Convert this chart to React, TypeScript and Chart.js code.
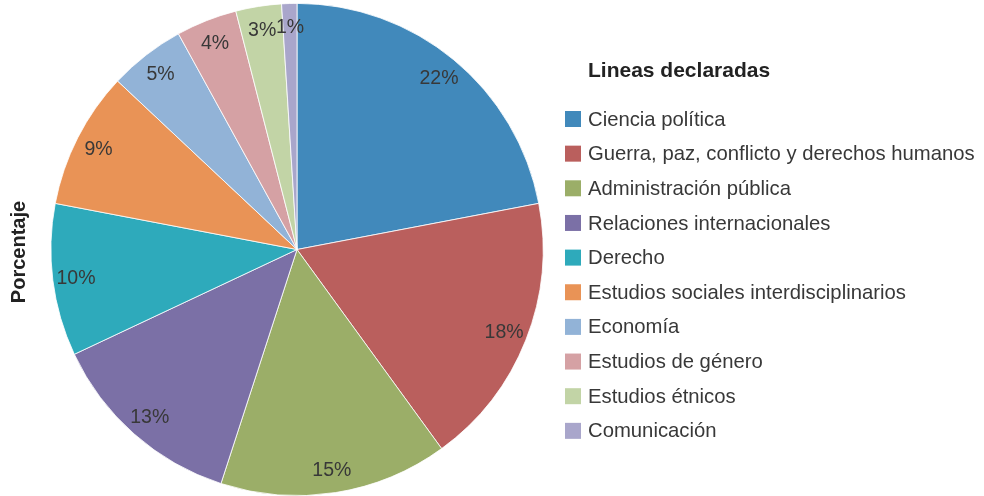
import React, { useEffect, useRef } from "react";
import { Chart, registerables } from "chart.js";

Chart.register(...registerables);

const categories = [
  "Ciencia política",
  "Guerra, paz, conflicto y derechos humanos",
  "Administración pública",
  "Relaciones internacionales",
  "Derecho",
  "Estudios sociales interdisciplinarios",
  "Economía",
  "Estudios de género",
  "Estudios étnicos",
  "Comunicación",
];
const values = [22, 18, 15, 13, 10, 9, 5, 4, 3, 1];
const colors = [
  "#4189BB",
  "#BA5F5D",
  "#9BAE68",
  "#7B70A6",
  "#2EAABB",
  "#E99356",
  "#92B3D7",
  "#D5A1A4",
  "#C2D4A6",
  "#A9A6CB",
];
const legendTitle = "Lineas declaradas";
const axisTitle = "Porcentaje";

const FONT = "'Liberation Sans', Arial, sans-serif";
const TEXT = "#383838";

const sliceLabels = {
  id: "sliceLabels",
  afterDatasetsDraw(chart: any) {
    const ctx = chart.ctx;
    const meta = chart.getDatasetMeta(0);
    const data = chart.data.datasets[0].data as number[];
    ctx.save();
    ctx.font = `19.5px ${FONT}`;
    ctx.fillStyle = TEXT;
    ctx.textAlign = "center";
    ctx.textBaseline = "middle";
    meta.data.forEach((arc: any, i: number) => {
      const p = arc.getProps(["x", "y", "startAngle", "endAngle", "outerRadius"], true);
      const mid = (p.startAngle + p.endAngle) / 2;
      const r = p.outerRadius * 0.905;
      ctx.fillText(`${data[i]}%`, p.x + Math.cos(mid) * r, p.y + Math.sin(mid) * r + 1);
    });
    ctx.restore();
  },
};

const sideTexts = {
  id: "sideTexts",
  afterDraw(chart: any) {
    const ctx = chart.ctx;
    const labels = chart.data.labels as string[];
    const bg = chart.data.datasets[0].backgroundColor as string[];
    ctx.save();
    // axis title
    ctx.save();
    ctx.translate(19, 252);
    ctx.rotate(-Math.PI / 2);
    ctx.font = `bold 20px ${FONT}`;
    ctx.fillStyle = "#222";
    ctx.textAlign = "center";
    ctx.textBaseline = "middle";
    ctx.fillText(axisTitle, 0, 0);
    ctx.restore();
    // legend title
    ctx.font = `bold 21px ${FONT}`;
    ctx.fillStyle = "#222";
    ctx.textAlign = "left";
    ctx.textBaseline = "middle";
    ctx.fillText(legendTitle, 588, 71);
    // legend items
    ctx.font = `20.3px ${FONT}`;
    labels.forEach((lab, i) => {
      const cy = 119 + i * 34.65;
      ctx.fillStyle = bg[i];
      ctx.fillRect(565, cy - 8, 16, 16);
      ctx.fillStyle = TEXT;
      ctx.fillText(lab, 588, cy + 1);
    });
    ctx.restore();
  },
};

export default function App() {
  const ref = useRef<HTMLCanvasElement | null>(null);
  useEffect(() => {
    if (!ref.current) return;
    const chart = new Chart(ref.current, {
      type: "pie",
      data: {
        labels: categories,
        datasets: [
          {
            data: values,
            backgroundColor: colors,
            borderColor: "#ffffff",
            borderWidth: 0.8,
          },
        ],
      },
      options: {
        responsive: false,
        animation: false,
        layout: { padding: { left: 50, top: 3, right: 440, bottom: 0 } },
        plugins: {
          legend: { display: false },
          tooltip: { enabled: false },
        },
      },
      plugins: [sliceLabels, sideTexts],
    });
    return () => chart.destroy();
  }, []);
  return (
    <div style={{ position: "absolute", left: 0, top: 0, width: 984, height: 496, background: "#fff" }}>
      <canvas ref={ref} width={984} height={496} style={{ display: "block" }} />
    </div>
  );
}
